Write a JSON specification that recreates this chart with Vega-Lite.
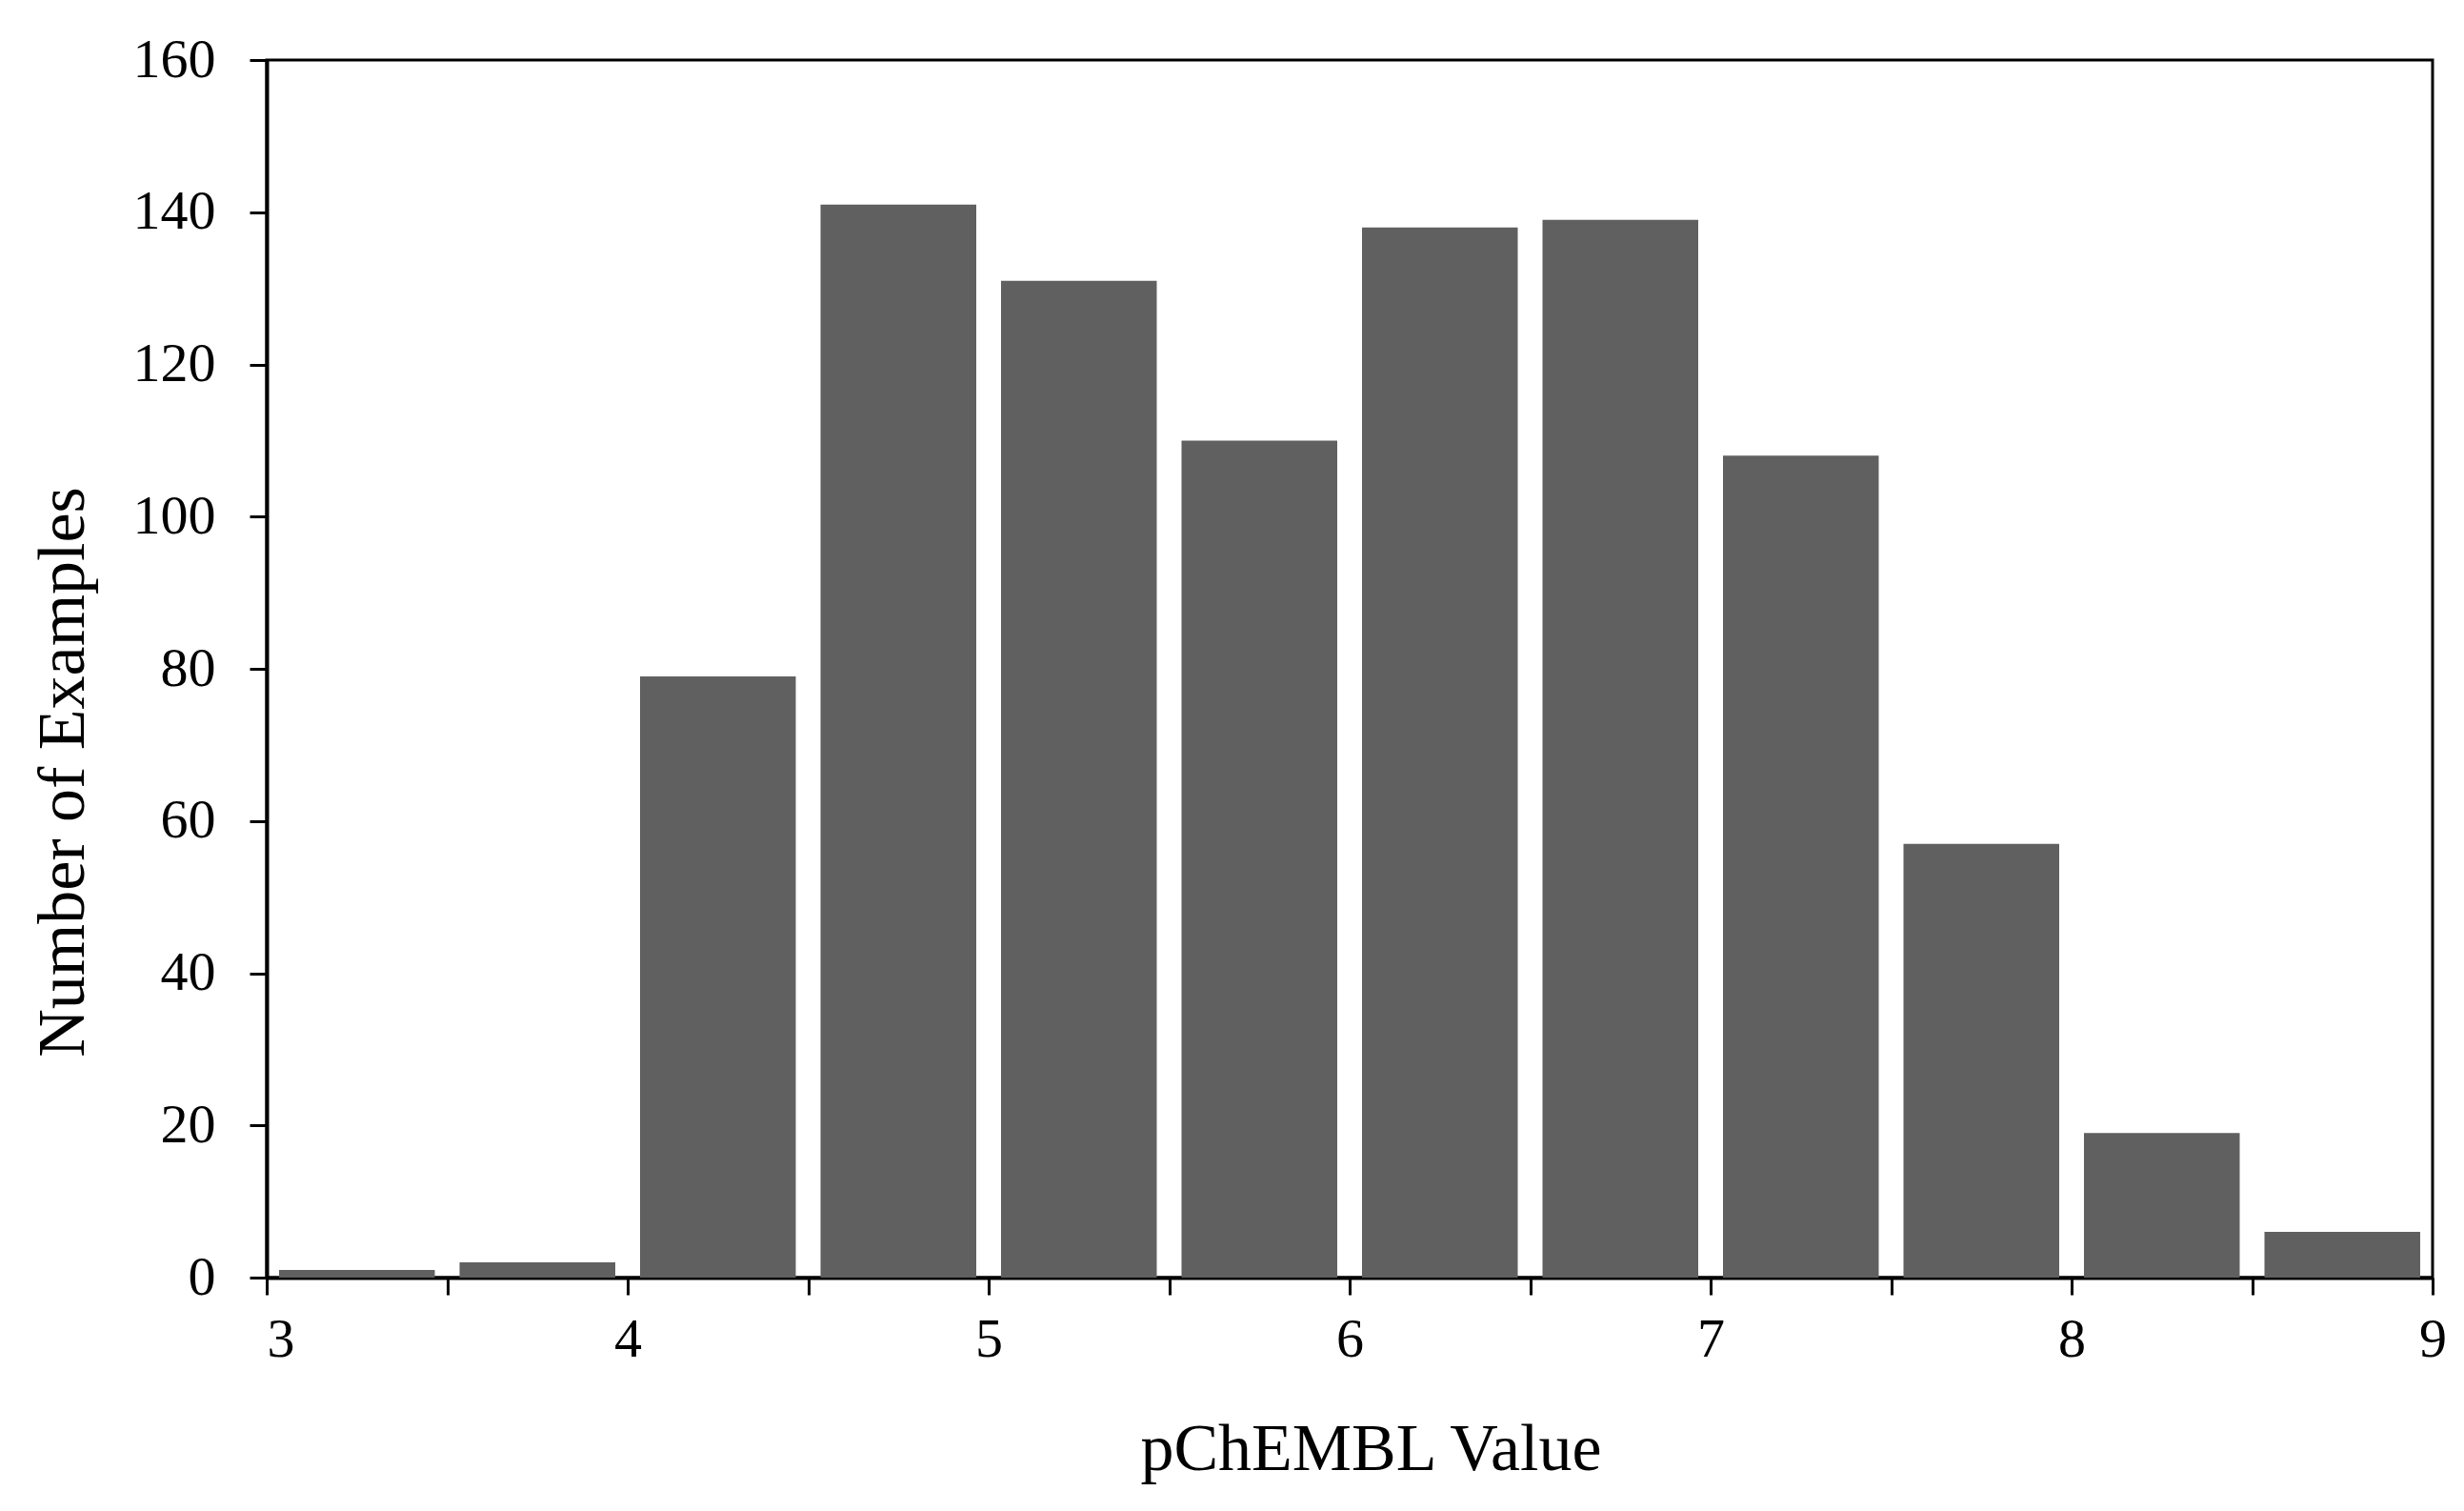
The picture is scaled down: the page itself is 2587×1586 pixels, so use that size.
{
  "$schema": "https://vega.github.io/schema/vega-lite/v6.json",
  "width": 2274,
  "height": 1278,
  "autosize": {"type": "none"},
  "padding": {"left": 280, "top": 63, "right": 33, "bottom": 245},
  "background": "white",
  "data": {
    "values": [
      {"start": 3.0, "end": 3.5, "count": 1},
      {"start": 3.5, "end": 4.0, "count": 2},
      {"start": 4.0, "end": 4.5, "count": 79},
      {"start": 4.5, "end": 5.0, "count": 141},
      {"start": 5.0, "end": 5.5, "count": 131},
      {"start": 5.5, "end": 6.0, "count": 110},
      {"start": 6.0, "end": 6.5, "count": 138},
      {"start": 6.5, "end": 7.0, "count": 139},
      {"start": 7.0, "end": 7.5, "count": 108},
      {"start": 7.5, "end": 8.0, "count": 57},
      {"start": 8.0, "end": 8.5, "count": 19},
      {"start": 8.5, "end": 9.0, "count": 6}
    ]
  },
  "mark": {"type": "bar", "color": "#606060", "xOffset": 13, "x2Offset": -13},
  "encoding": {
    "x": {
      "field": "start",
      "type": "quantitative",
      "scale": {"domain": [3, 9], "nice": false, "zero": false},
      "axis": {
        "title": "pChEMBL Value",
        "values": [3, 3.5, 4, 4.5, 5, 5.5, 6, 6.5, 7, 7.5, 8, 8.5, 9],
        "labelExpr": "datum.value % 1 == 0 ? format(datum.value, 'd') : ''",
        "labelAlign": {"condition": {"test": "datum.value == 3", "value": "left"}, "value": "center"},
        "labelOverlap": false,
        "labelFlush": false,
        "labelPadding": 18,
        "titleX": 1159,
        "titleY": 180,
        "titleBaseline": "middle",
        "titleAlign": "center"
      }
    },
    "x2": {"field": "end"},
    "y": {
      "field": "count",
      "type": "quantitative",
      "scale": {"domain": [0, 160], "nice": false},
      "axis": {
        "title": "Number of Examples",
        "values": [0, 20, 40, 60, 80, 100, 120, 140, 160],
        "labelPadding": 36,
        "titleAngle": -90,
        "titleX": -214,
        "titleY": 747,
        "titleAlign": "center",
        "titleBaseline": "middle"
      }
    },
    "y2": {"datum": 0}
  },
  "config": {
    "view": {"stroke": "black", "strokeWidth": 3},
    "axis": {
      "grid": false,
      "domainColor": "black",
      "domainWidth": 4,
      "tickColor": "black",
      "tickWidth": 3,
      "tickSize": 18,
      "labelFont": "Liberation Serif",
      "labelFontSize": 58,
      "labelColor": "black",
      "titleFont": "Liberation Serif",
      "titleFontSize": 70,
      "titleFontWeight": "normal",
      "titleColor": "black"
    }
  }
}
